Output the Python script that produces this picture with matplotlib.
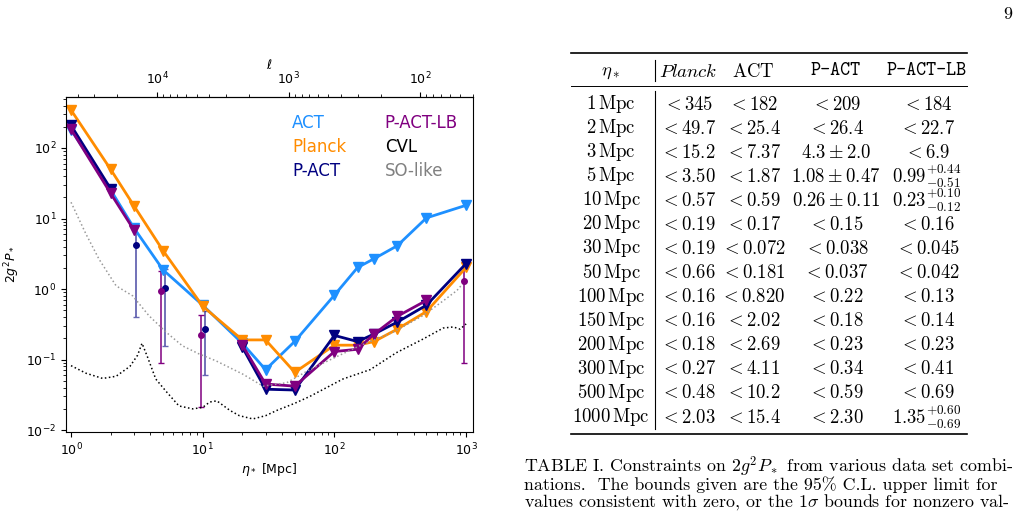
import matplotlib
matplotlib.use("Agg")
import matplotlib.pyplot as plt
from matplotlib.lines import Line2D
import numpy as np

plt.rcParams['mathtext.fontset'] = 'cm'

# ---- data ----
nan = np.nan
eta = [1, 2, 3, 5, 10, 20, 30, 50, 100, 150, 200, 300, 500, 1000]

act = [182, 25.4, 7.37, 1.87, 0.59, 0.17, 0.072, 0.181, 0.820, 2.02, 2.69, 4.11, 10.2, 15.4]
planck = [345, 49.7, 15.2, 3.50, 0.57, 0.19, 0.19, 0.066, 0.16, 0.16, 0.18, 0.27, 0.48, 2.03]
# upper limits only; detections are shown as points with error bars
p_act = [209, 26.4, nan, nan, nan, 0.15, 0.038, 0.037, 0.22, 0.18, 0.23, 0.34, 0.59, 2.30]
p_act_lb = [184, 22.7, 6.9, nan, nan, 0.16, 0.045, 0.042, 0.13, 0.14, 0.23, 0.41, 0.69, nan]

# detections (2 sigma bars)
pact_det_eta = [3, 5, 10]
pact_det_val = [4.2, 1.05, 0.27]
pact_det_lo = [3.8, 0.895, 0.21]
pact_det_hi = [3.9, 0.9, 0.22]

lb_det_eta = [5, 10, 1000]
lb_det_val = [0.95, 0.22, 1.3]
lb_det_lo = [0.86, 0.199, 1.21]
lb_det_hi = [0.87, 0.21, 1.1]

cvl_eta = [1.0, 1.3, 1.74, 2.2, 2.8, 3.2, 3.46, 3.8, 4.4, 5.3, 6.6, 8.4, 10.0, 11.3, 12.8, 16.1,
           19.0, 24.0, 30.0, 36.5, 50.0, 65.0, 116.0, 187.0, 295.0, 470.0, 670.0, 800.0, 900.0, 1000.0]
cvl_val = [0.082, 0.064, 0.054, 0.058, 0.08, 0.115, 0.17, 0.11, 0.053, 0.035, 0.022, 0.020, 0.021,
           0.025, 0.026, 0.019, 0.016, 0.0144, 0.016, 0.019, 0.024, 0.030, 0.053, 0.072, 0.125,
           0.195, 0.28, 0.29, 0.27, 0.32]

so_eta = [1.0, 1.3, 1.63, 2.2, 2.94, 3.9, 5.27, 7.0, 9.4, 12.6, 20.2, 28.7, 43.5, 65.0, 104.0,
          156.0, 280.0, 470.0, 670.0, 850.0, 1000.0]
so_val = [17.0, 6.0, 2.66, 1.11, 0.80, 0.42, 0.245, 0.157, 0.12, 0.096, 0.062, 0.042, 0.047, 0.072,
          0.11, 0.157, 0.245, 0.42, 0.68, 0.95, 1.35]

ell_const = 45000.0

# ---- table contents ----
tab_eta = [r"$%s\,\mathrm{Mpc}$" % e for e in
           ["1", "2", "3", "5", "10", "20", "30", "50", "100", "150", "200", "300", "500", "1000"]]
tab_planck = ["345", "49.7", "15.2", "3.50", "0.57", "0.19", "0.19", "0.66", "0.16", "0.16", "0.18",
              "0.27", "0.48", "2.03"]
tab_act = ["182", "25.4", "7.37", "1.87", "0.59", "0.17", "0.072", "0.181", "0.820", "2.02", "2.69",
           "4.11", "10.2", "15.4"]
tab_pact = ["<209", "<26.4", r"4.3\pm2.0", r"1.08\pm0.47", r"0.26\pm0.11", "<0.15", "<0.038",
            "<0.037", "<0.22", "<0.18", "<0.23", "<0.34", "<0.59", "<2.30"]
tab_lb = ["<184", "<22.7", "<6.9", r"0.99^{+0.44}_{-0.51}", r"0.23^{+0.10}_{-0.12}", "<0.16",
          "<0.045", "<0.042", "<0.13", "<0.14", "<0.23", "<0.41", "<0.69", r"1.35^{+0.60}_{-0.69}"]

caption = [r"TABLE I. Constraints on $2g^2P_*$ from various data set combi-",
           r"nations.  The bounds given are the 95% C.L. upper limit for",
           r"values consistent with zero, or the $1\sigma$ bounds for nonzero val-"]

W, H = 1020, 511
fig = plt.figure(figsize=(W / 100, H / 100), dpi=100)


def fx(x):
    return x / W


def fy(y):
    return 1 - y / H


ax = fig.add_axes([fx(66), fy(432), fx(473) - fx(66), fy(97) - fy(432)])

ax.errorbar(np.array(pact_det_eta) * 1.035, pact_det_val, yerr=[pact_det_lo, pact_det_hi],
            fmt='o', ms=4, color='navy', ecolor=(0.2, 0.2, 0.6, 0.75), elinewidth=1.3, capsize=2)
ax.errorbar(np.array(lb_det_eta) * 0.967, lb_det_val, yerr=[lb_det_lo, lb_det_hi],
            fmt='o', ms=4, color='purple', elinewidth=1.1, capsize=2)

ax.plot(eta, act, marker='v', color='dodgerblue', lw=2, ms=7, label='ACT')
ax.plot(eta, planck, marker='v', color='darkorange', lw=2, ms=7, label='Planck')
ax.plot(eta, p_act, marker='v', color='navy', lw=2, ms=7, label='P-ACT')
ax.plot(eta, p_act_lb, marker='v', color='purple', lw=2, ms=7, label='P-ACT-LB')
ax.plot(cvl_eta, cvl_val, ls=':', color='black', lw=1.1, label='CVL')
ax.plot(so_eta, so_val, ls=':', color='#999999', lw=1.1, label='SO-like')

ax.set_xscale('log')
ax.set_yscale('log')
ax.set_xlim(0.916, 1128)
ax.set_ylim(0.0094, 528)
ax.tick_params(labelsize=9)
ax.set_xlabel(r'$\eta_*$ [Mpc]', fontsize=9, math_fontfamily='dejavusans', labelpad=2)
ax.set_ylabel(r'$2g^2P_*$', fontsize=9, math_fontfamily='dejavusans', labelpad=3)

sec = ax.secondary_xaxis('top', functions=(lambda x: ell_const / x, lambda x: ell_const / x))
sec.set_xticks([1e2, 1e3, 1e4])
sec.tick_params(labelsize=9)
sec.set_xlabel(r'$\ell$', fontsize=9, math_fontfamily='dejavusans', labelpad=1)

leg = ax.legend(ncol=2, frameon=False, fontsize=12, handlelength=0, handletextpad=0,
                loc='upper right', bbox_to_anchor=(1.0, 0.995), labelspacing=0.38,
                columnspacing=2.3)
for h in leg.legend_handles:
    h.set_visible(False)
for t, c in zip(leg.get_texts(), ['dodgerblue', 'darkorange', 'navy', 'purple', 'black', 'gray']):
    t.set_color(c)

# ---- table ----
x_rule0, x_rule1 = 571, 967
for yy, lw in [(53, 1.2), (86, 0.7), (434, 1.2)]:
    fig.add_artist(Line2D([fx(x_rule0), fx(x_rule1)], [fy(yy), fy(yy)], color='black', lw=lw,
                          transform=fig.transFigure))
fig.add_artist(Line2D([fx(655), fx(655)], [fy(60), fy(81)], color='black', lw=0.8,
                      transform=fig.transFigure))
fig.add_artist(Line2D([fx(655), fx(655)], [fy(91), fy(429)], color='black', lw=0.8,
                      transform=fig.transFigure))

tsize = 13.5
cols = [611, 688, 753, 836, 927]
fig.text(fx(cols[0]), fy(71), r'$\eta_*$', ha='center', va='center', fontsize=tsize)
fig.text(fx(cols[1]), fy(71), r'$\mathit{Planck}$', ha='center', va='center', fontsize=tsize)
fig.text(fx(cols[2]), fy(71), r'$\mathrm{ACT}$', ha='center', va='center', fontsize=tsize)
fig.text(fx(cols[3]), fy(71), 'P-ACT', ha='center', va='center', fontsize=13.8, family='cmtt10')
fig.text(fx(cols[4]), fy(71), 'P-ACT-LB', ha='center', va='center', fontsize=13.8,
         family='cmtt10')

for i in range(len(tab_eta)):
    yy = 104 + 24.08 * i
    row = [tab_eta[i], r"$<%s$" % tab_planck[i], r"$<%s$" % tab_act[i],
           r"$%s$" % tab_pact[i], r"$%s$" % tab_lb[i]]
    for c, s in zip(cols, row):
        fig.text(fx(c), fy(yy), s, ha='center', va='center', fontsize=tsize)

for i, line in enumerate(caption):
    fig.text(fx(524), fy(467 + 17.5 * i), line, ha='left', va='center', fontsize=12.9,
             family='cmr10')

fig.text(fx(1008), fy(14), '9', ha='center', va='center', fontsize=13, family='cmr10')

fig.savefig('out.png', dpi=100)
